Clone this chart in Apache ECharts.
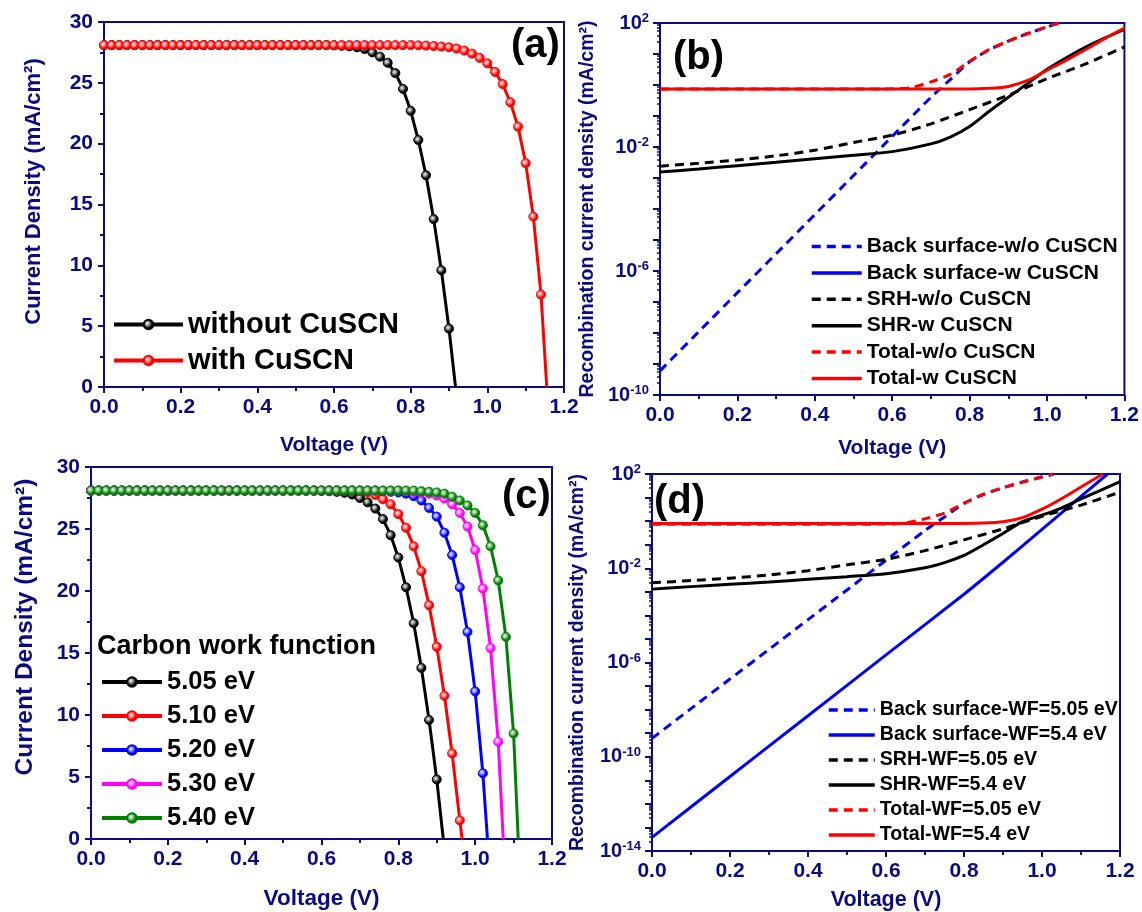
<!DOCTYPE html>
<html>
<head>
<meta charset="utf-8">
<script src="https://cdn.jsdelivr.net/npm/echarts@6/dist/echarts.min.js"></script>
<style>
  html, body { margin: 0; padding: 0; background: #fff; }
  #chart { width: 1142px; height: 912px; }
</style>
</head>
<body>
<div id="chart"></div>
<script>
// ---- data ----
// J-V sweep, 0.02 V steps
const voltage = [
  0.00, 0.02, 0.04, 0.06, 0.08, 0.10, 0.12, 0.14, 0.16, 0.18,
  0.20, 0.22, 0.24, 0.26, 0.28, 0.30, 0.32, 0.34, 0.36, 0.38,
  0.40, 0.42, 0.44, 0.46, 0.48, 0.50, 0.52, 0.54, 0.56, 0.58,
  0.60, 0.62, 0.64, 0.66, 0.68, 0.70, 0.72, 0.74, 0.76, 0.78,
  0.80, 0.82, 0.84, 0.86, 0.88, 0.90, 0.92, 0.94, 0.96, 0.98,
  1.00, 1.02, 1.04, 1.06, 1.08, 1.10, 1.12, 1.14
];

// without CuSCN == 5.05 eV (0 .. 0.90 V)
const jWithout = [
  28.1, 28.1, 28.1, 28.1, 28.1, 28.1, 28.1, 28.1, 28.1, 28.1,
  28.1, 28.1, 28.1, 28.1, 28.1, 28.1, 28.1, 28.1, 28.1, 28.1,
  28.1, 28.1, 28.1, 28.1, 28.1, 28.1, 28.1, 28.1, 28.1, 28.1,
  28.08, 28.05, 28.0, 27.92, 27.78, 27.5, 27.15, 26.65, 25.8, 24.5,
  22.7, 20.3, 17.4, 13.8, 9.6, 4.8
];
const vocWithout = 0.917;

// with CuSCN (0 .. 1.14 V)
const jWith = [
  28.1, 28.1, 28.1, 28.1, 28.1, 28.1, 28.1, 28.1, 28.1, 28.1,
  28.1, 28.1, 28.1, 28.1, 28.1, 28.1, 28.1, 28.1, 28.1, 28.1,
  28.1, 28.1, 28.1, 28.1, 28.1, 28.1, 28.1, 28.1, 28.1, 28.1,
  28.1, 28.1, 28.1, 28.1, 28.1, 28.1, 28.1, 28.1, 28.1, 28.1,
  28.1, 28.08, 28.06, 28.03, 27.98, 27.92, 27.82, 27.65, 27.4, 27.05,
  26.6, 25.9, 24.9, 23.4, 21.4, 18.4, 14.0, 7.6
];
const vocWith = 1.155;

// carbon work function series
const j510 = [
  28.1, 28.1, 28.1, 28.1, 28.1, 28.1, 28.1, 28.1, 28.1, 28.1,
  28.1, 28.1, 28.1, 28.1, 28.1, 28.1, 28.1, 28.1, 28.1, 28.1,
  28.1, 28.1, 28.1, 28.1, 28.1, 28.1, 28.1, 28.1, 28.1, 28.1,
  28.1, 28.1, 28.1, 28.1, 28.1, 28.05, 27.95, 27.75, 27.4, 27.0,
  26.2, 25.1, 23.6, 21.6, 18.85, 15.5, 11.55, 6.9, 1.5
];
const voc510 = 0.966;

const j520 = [
  28.1, 28.1, 28.1, 28.1, 28.1, 28.1, 28.1, 28.1, 28.1, 28.1,
  28.1, 28.1, 28.1, 28.1, 28.1, 28.1, 28.1, 28.1, 28.1, 28.1,
  28.1, 28.1, 28.1, 28.1, 28.1, 28.1, 28.1, 28.1, 28.1, 28.1,
  28.1, 28.1, 28.1, 28.1, 28.1, 28.1, 28.1, 28.1, 28.05, 28.0,
  27.95, 27.85, 27.65, 27.3, 26.7, 26.0, 24.7, 22.9, 20.3, 16.7,
  11.9, 5.3
];
const voc520 = 1.032;

const j530 = [
  28.1, 28.1, 28.1, 28.1, 28.1, 28.1, 28.1, 28.1, 28.1, 28.1,
  28.1, 28.1, 28.1, 28.1, 28.1, 28.1, 28.1, 28.1, 28.1, 28.1,
  28.1, 28.1, 28.1, 28.1, 28.1, 28.1, 28.1, 28.1, 28.1, 28.1,
  28.1, 28.1, 28.1, 28.1, 28.1, 28.1, 28.1, 28.1, 28.1, 28.1,
  28.1, 28.05, 28.0, 27.95, 27.85, 27.7, 27.45, 27.0, 26.3, 25.2,
  23.3, 20.2, 15.4, 7.85
];
const voc530 = 1.073;

const j540 = [
  28.1, 28.1, 28.1, 28.1, 28.1, 28.1, 28.1, 28.1, 28.1, 28.1,
  28.1, 28.1, 28.1, 28.1, 28.1, 28.1, 28.1, 28.1, 28.1, 28.1,
  28.1, 28.1, 28.1, 28.1, 28.1, 28.1, 28.1, 28.1, 28.1, 28.1,
  28.1, 28.1, 28.1, 28.1, 28.1, 28.1, 28.1, 28.1, 28.1, 28.1,
  28.1, 28.1, 28.1, 28.05, 28.0, 27.95, 27.85, 27.6, 27.3, 26.9,
  26.3, 25.3, 23.6, 20.85, 16.3, 8.5
];
const voc540 = 1.112;

// recombination currents (mA/cm2)
const vBackWo = [0, 0.1, 0.2, 0.3, 0.4, 0.5, 0.6, 0.7, 0.75, 0.8, 0.85, 0.9, 0.95, 1.0, 1.03];
const jBackWo = [6.0e-10, 1.1e-8, 2.0e-7, 3.6e-6, 6.6e-5, 1.2e-3, 2.2e-2, 0.40, 1.5, 5.6, 13.5, 26, 46, 74, 100];

const vSrhWo = [0, 0.1, 0.2, 0.3, 0.4, 0.5, 0.6, 0.7, 0.8, 0.9, 1.0, 1.1, 1.2];
const jSrhWo = [2.4e-3, 3.0e-3, 3.8e-3, 5.2e-3, 7.9e-3, 1.4e-2, 2.4e-2, 5.6e-2, 0.16, 0.47, 1.6, 4.8, 17];

const vSrhW = [0, 0.1, 0.2, 0.3, 0.4, 0.5, 0.6, 0.7, 0.75, 0.8, 0.85, 0.9, 0.95, 1.0, 1.05, 1.1, 1.15, 1.2];
const jSrhW = [1.55e-3, 1.95e-3, 2.5e-3, 3.2e-3, 4.2e-3, 5.4e-3, 7.1e-3, 1.26e-2, 2.1e-2, 4.6e-2, 0.14, 0.40, 1.12, 3.2, 7.6, 16.6, 33, 62];

const vTotalWo = [0, 0.2, 0.4, 0.6, 0.65, 0.7, 0.75, 0.8, 0.85, 0.9, 0.95, 1.0, 1.03];
const jTotalWo = [0.74, 0.74, 0.74, 0.75, 0.83, 1.26, 2.2, 5.8, 14, 26, 45, 76, 100];

const vTotalW = [0, 0.2, 0.4, 0.6, 0.8, 0.85, 0.9, 0.95, 1.0, 1.05, 1.1, 1.15, 1.2];
const jTotalW = [0.74, 0.74, 0.74, 0.74, 0.74, 0.78, 0.9, 1.4, 3.0, 6.3, 14, 32, 69];

const vBack54 = [0, 0.2, 0.4, 0.6, 0.8, 0.9, 1.0, 1.1, 1.168];
const jBack54 = [3.8e-14, 1.45e-11, 5.5e-9, 2.1e-6, 7.9e-4, 1.8e-2, 0.45, 11.2, 100];

const vSrh54 = [0, 0.1, 0.2, 0.3, 0.4, 0.5, 0.6, 0.7, 0.75, 0.8, 0.85, 0.9, 0.95, 1.0, 1.05, 1.1, 1.15, 1.2];
const jSrh54 = [1.3e-3, 1.66e-3, 2.1e-3, 2.6e-3, 3.4e-3, 4.4e-3, 5.9e-3, 1.05e-2, 1.74e-2, 3.5e-2, 0.1, 0.3, 0.95, 1.8, 3.6, 8.7, 20, 47];

const vTotal54 = [0, 0.2, 0.4, 0.6, 0.8, 0.85, 0.9, 0.95, 1.0, 1.05, 1.1, 1.156];
const jTotal54 = [0.8, 0.8, 0.8, 0.8, 0.8, 0.83, 0.95, 1.4, 3.2, 8.9, 28, 100];

// ---- styling ----
const navy = '#0b0b80';
const font = '"Liberation Sans", Arial, sans-serif';

function jvSeries(name, color, idx, ys, voc) {
  const data = ys.map((j, i) => [voltage[i], j]);
  data.push({ value: [voc, 0], symbol: 'none' });
  return {
    name: name, type: 'line', xAxisIndex: idx, yAxisIndex: idx, data: data,
    symbol: 'circle', symbolSize: 9,
    lineStyle: { color: color, width: 3 },
    itemStyle: {
      color: { type: 'radial', x: 0.4, y: 0.4, r: 0.6,
        colorStops: [{ offset: 0, color: '#ffffff' }, { offset: 0.7, color: color }, { offset: 1, color: color }] },
      borderColor: color, borderWidth: 1
    },
    emphasis: { disabled: true }
  };
}

function recSeries(name, color, dashed, idx, xs, ys) {
  return {
    name: name, type: 'line', xAxisIndex: idx, yAxisIndex: idx,
    data: xs.map((v, i) => [v, ys[i]]),
    symbol: 'none', smooth: 0.25,
    lineStyle: { color: color, width: 3, type: dashed ? [9, 6] : 'solid' },
    itemStyle: { color: color },
    emphasis: { disabled: true }
  };
}

function xAxis(idx, gap, size) {
  return {
    gridIndex: idx, type: 'value', min: 0, max: 1.2, interval: 0.2,
    name: 'Voltage (V)', nameLocation: 'middle', nameGap: gap,
    nameTextStyle: { color: navy, fontWeight: 'bold', fontSize: size, fontFamily: font },
    axisLine: { show: true, onZero: false, lineStyle: { color: navy, width: 2 } },
    axisTick: { show: true, inside: false, length: 6, lineStyle: { color: navy, width: 2 } },
    minorTick: { show: true, splitNumber: 2, length: 4, lineStyle: { color: navy, width: 2 } },
    axisLabel: { color: navy, fontWeight: 'bold', fontSize: 21, fontFamily: font, margin: 10,
      formatter: v => v.toFixed(1) },
    splitLine: { show: false }, minorSplitLine: { show: false }
  };
}

function jvYAxis(idx, gap, size, shift) {
  return {
    gridIndex: idx, type: 'value', min: 0, max: 30, interval: 5,
    name: 'Current Density (mA/cm²)', nameLocation: 'middle', nameGap: gap,
    nameTextStyle: { color: navy, fontWeight: 'bold', fontSize: size, fontFamily: font,
      padding: [0, 0, 0, shift] },
    axisLine: { show: true, onZero: false, lineStyle: { color: navy, width: 2 } },
    axisTick: { show: true, inside: false, length: 6, lineStyle: { color: navy, width: 2 } },
    minorTick: { show: true, splitNumber: 2, length: 4, lineStyle: { color: navy, width: 2 } },
    axisLabel: { color: navy, fontWeight: 'bold', fontSize: 21, fontFamily: font, margin: 11 },
    splitLine: { show: false }, minorSplitLine: { show: false }
  };
}

function logYAxis(idx, minExp, gap) {
  return {
    gridIndex: idx, type: 'log', logBase: 10, min: Math.pow(10, minExp), max: 100,
    interval: 1,
    name: 'Recombination current density (mA/cm²)', nameLocation: 'middle', nameGap: gap,
    nameTextStyle: { color: navy, fontWeight: 'bold', fontSize: 19.5, fontFamily: font },
    axisLine: { show: true, onZero: false, lineStyle: { color: navy, width: 2 } },
    axisTick: { show: true, inside: false, length: 7, lineStyle: { color: navy, width: 2 } },
    minorTick: { show: true, splitNumber: 6, length: 3, lineStyle: { color: navy, width: 1.5 } },
    axisLabel: {
      margin: 11,
      formatter: v => {
        const e = Math.round(Math.log10(v));
        return (e - minExp) % 4 === 0 ? '{b|10}{s|' + e + '}' : '';
      },
      rich: {
        b: { color: navy, fontWeight: 'bold', fontSize: 20, fontFamily: font, lineHeight: 22 },
        s: { color: navy, fontWeight: 'bold', fontSize: 13, fontFamily: font, verticalAlign: 'top', lineHeight: 13 }
      }
    },
    splitLine: { show: false }, minorSplitLine: { show: false }
  };
}

function legend(left, top, w, h, gap, size, names, hideSymbol, lineWidth) {
  return {
    orient: 'vertical', left: left, top: top, itemWidth: w, itemHeight: h, itemGap: gap,
    selectedMode: false, data: names, padding: 0,
    itemStyle: hideSymbol ? { opacity: 0, borderWidth: 0 } : {},
    lineStyle: { width: lineWidth },
    textStyle: { color: '#000', fontWeight: 'bold', fontSize: size, fontFamily: font }
  };
}

function panelLabel(text, x, y) {
  return { type: 'text', x: x, y: y,
    style: { text: text, fill: '#000', font: 'bold 40px "Liberation Sans", Arial, sans-serif',
      textVerticalAlign: 'middle', verticalAlign: 'middle' } };
}

const chart = echarts.init(document.getElementById('chart'), null, { renderer: 'canvas' });

const option = {
  animation: false,
  backgroundColor: '#fff',
  grid: [
    { left: 104, top: 22, width: 460, height: 365 },
    { left: 660, top: 23, width: 467, height: 372 },
    { left: 91, top: 467, width: 461, height: 372 },
    { left: 652, top: 474, width: 468, height: 378 }
  ].map(g => Object.assign(g, { show: true, borderColor: navy, borderWidth: 2 })),
  xAxis: [xAxis(0, 48, 21), xAxis(1, 43, 21), xAxis(2, 48, 22.5), xAxis(3, 38, 21.5)],
  yAxis: [jvYAxis(0, 59, 22, 26), logYAxis(1, -10, 62), jvYAxis(2, 53, 24.5, 52), logYAxis(3, -14, 64)],
  legend: [
    legend(112, 310, 69, 12, 7, 29, ['without CuSCN', 'with CuSCN'], false, 4),
    legend(810, 236, 50, 10, 5.4, 21, ['Back surface-w/o CuSCN', 'Back surface-w CuSCN',
      'SRH-w/o CuSCN', 'SHR-w CuSCN', 'Total-w/o CuSCN', 'Total-w CuSCN'], true, 3.5),
    legend(100, 669, 60, 12, 8, 25.5, ['5.05 eV', '5.10 eV', '5.20 eV', '5.30 eV', '5.40 eV'], false, 4),
    legend(827, 700, 46, 10, 5, 19.6, ['Back surface-WF=5.05 eV', 'Back surface-WF=5.4 eV',
      'SRH-WF=5.05 eV', 'SHR-WF=5.4 eV', 'Total-WF=5.05 eV', 'Total-WF=5.4 eV'], true, 3.5)
  ],
  graphic: [
    panelLabel('(a)', 511, 46),
    panelLabel('(b)', 673, 58),
    panelLabel('(c)', 502, 497),
    panelLabel('(d)', 654, 502),
    { type: 'text', x: 97, y: 647,
      style: { text: 'Carbon work function', fill: '#000', font: 'bold 27px "Liberation Sans", Arial, sans-serif',
        textVerticalAlign: 'middle', verticalAlign: 'middle' } }
  ],
  series: [
    jvSeries('without CuSCN', '#000000', 0, jWithout, vocWithout),
    jvSeries('with CuSCN', '#ff0000', 0, jWith, vocWith),

    recSeries('Back surface-w/o CuSCN', '#0000ff', true, 1, vBackWo, jBackWo),
    recSeries('Back surface-w CuSCN', '#0000ff', false, 1, [], []),
    recSeries('SRH-w/o CuSCN', '#000000', true, 1, vSrhWo, jSrhWo),
    recSeries('SHR-w CuSCN', '#000000', false, 1, vSrhW, jSrhW),
    recSeries('Total-w/o CuSCN', '#ff0000', true, 1, vTotalWo, jTotalWo),
    recSeries('Total-w CuSCN', '#ff0000', false, 1, vTotalW, jTotalW),

    jvSeries('5.05 eV', '#000000', 2, jWithout, vocWithout),
    jvSeries('5.10 eV', '#ff0000', 2, j510, voc510),
    jvSeries('5.20 eV', '#0000ff', 2, j520, voc520),
    jvSeries('5.30 eV', '#ff00ff', 2, j530, voc530),
    jvSeries('5.40 eV', '#008000', 2, j540, voc540),

    recSeries('Back surface-WF=5.05 eV', '#0000ff', true, 3, vBackWo, jBackWo),
    recSeries('Back surface-WF=5.4 eV', '#0000ff', false, 3, vBack54, jBack54),
    recSeries('SRH-WF=5.05 eV', '#000000', true, 3, vSrhWo, jSrhWo),
    recSeries('SHR-WF=5.4 eV', '#000000', false, 3, vSrh54, jSrh54),
    recSeries('Total-WF=5.05 eV', '#ff0000', true, 3, vTotalWo, jTotalWo),
    recSeries('Total-WF=5.4 eV', '#ff0000', false, 3, vTotal54, jTotal54)
  ]
};

chart.setOption(option);
</script>
</body>
</html>
